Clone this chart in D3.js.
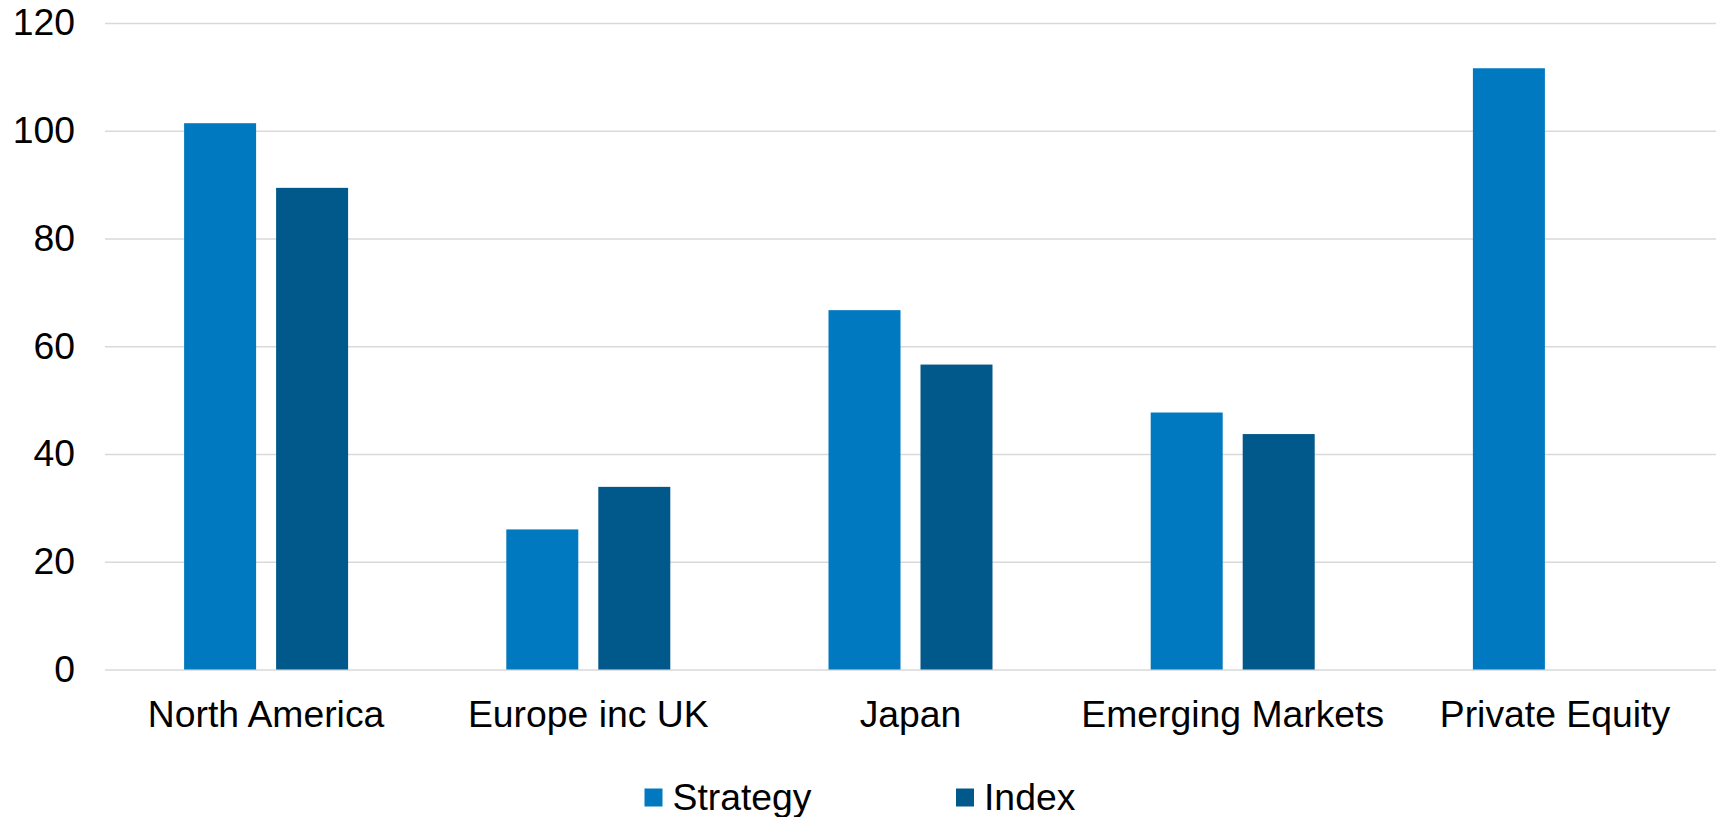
<!DOCTYPE html>
<html>
<head>
<meta charset="utf-8">
<script src="https://cdn.jsdelivr.net/npm/d3@7"></script>
<style>
  body { margin: 0; background: #fff; }
  svg { display: block; font-family: "Liberation Sans", Arial, sans-serif; }
</style>
</head>
<body>
<svg width="1719" height="817"></svg>
<script>
const categories = ['North America', 'Europe inc UK', 'Japan', 'Emerging Markets', 'Private Equity']
const seriesNames = ['Strategy', 'Index']
const strategy = [101.4, 26.0, 66.7, 47.7, 111.6]
const index = [89.4, 33.9, 56.6, 43.7, null]
const yTicks = [0, 20, 40, 60, 80, 100, 120]
const colors = ['#0079c1', '#00588b']

const width = 1719
const height = 817
const margin = {top: 23, right: 3, bottom: 147.5, left: 105}
const fontSize = 37.33

const svg = d3.select('svg')

const x0 = d3.scaleBand()
  .domain(categories)
  .range([margin.left, width - margin.right])

const pairW = 164
const x1 = d3.scaleBand()
  .domain(seriesNames)
  .range([x0.bandwidth() / 2 - pairW / 2, x0.bandwidth() / 2 + pairW / 2])
  .paddingInner(20 / 92)

const y = d3.scaleLinear()
  .domain([0, 120])
  .range([height - margin.bottom, margin.top])

// grid + y labels
const yAxis = g => g
  .attr('transform', `translate(${margin.left}, 0)`)
  .call(d3.axisLeft(y).tickValues(yTicks).tickSize(-(width - margin.left - margin.right)).tickPadding(30))
  .call(g => g.select('.domain').remove())
  .call(g => g.selectAll('.tick line').attr('stroke', '#d9d9d9').attr('stroke-width', 1.5))
  .call(g => g.selectAll('.tick text')
    .attr('font-size', fontSize)
    .attr('font-family', '"Liberation Sans", Arial, sans-serif')
    .attr('fill', '#000'))

svg.append('g').attr('class', 'y-axis').call(yAxis)

const rows = categories.map((c, i) => ({
  category: c,
  values: [
    {key: 'Strategy', value: strategy[i]},
    {key: 'Index', value: index[i]}
  ]
}))

svg.append('g')
  .attr('class', 'bars')
  .selectAll('g')
  .data(rows)
  .join('g')
  .attr('transform', d => `translate(${x0(d.category)}, 0)`)
  .selectAll('rect')
  .data(d => d.values.filter(v => v.value != null))
  .join('rect')
  .attr('x', d => x1(d.key))
  .attr('width', x1.bandwidth())
  .attr('y', d => y(d.value))
  .attr('height', d => y(0) - y(d.value))
  .attr('fill', d => colors[seriesNames.indexOf(d.key)])

// category labels
const xAxis = g => g
  .attr('transform', `translate(0, ${height - margin.bottom})`)
  .call(d3.axisBottom(x0).tickSize(0).tickPadding(31))
  .call(g => g.select('.domain').remove())
  .call(g => g.selectAll('.tick text')
    .attr('font-size', fontSize)
    .attr('font-family', '"Liberation Sans", Arial, sans-serif')
    .attr('fill', '#000'))

svg.append('g').attr('class', 'x-axis').call(xAxis)

// legend
const legendX = [644.5, 956]
const legend = svg.append('g').attr('class', 'legend')
  .selectAll('g')
  .data(seriesNames)
  .join('g')
  .attr('transform', (d, i) => `translate(${legendX[i]}, 788.5)`)

legend.append('rect')
  .attr('width', 18)
  .attr('height', 18)
  .attr('fill', (d, i) => colors[i])

legend.append('text')
  .attr('x', 28)
  .attr('y', 21.5)
  .attr('font-size', fontSize)
  .attr('fill', '#000')
  .text(d => d)
</script>
</body>
</html>
